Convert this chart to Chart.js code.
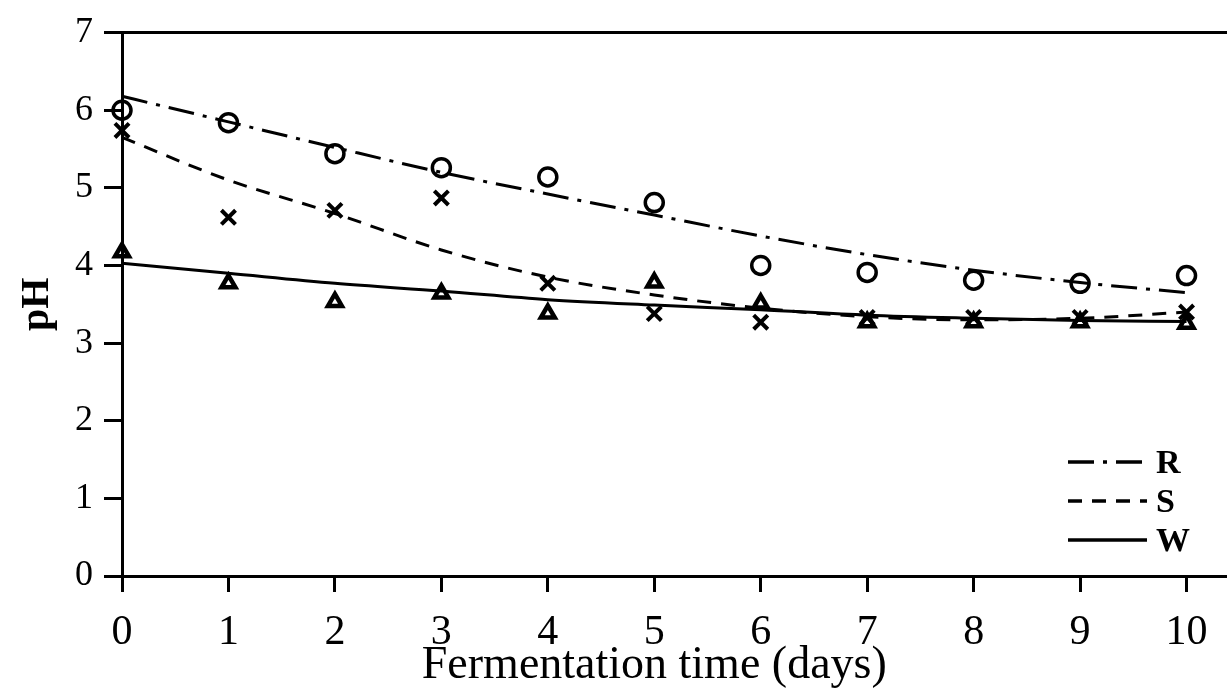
<!DOCTYPE html>
<html>
<head>
<meta charset="utf-8">
<script src="https://cdn.jsdelivr.net/npm/chart.js@4/dist/chart.umd.min.js"></script>
<style>
  html, body { margin: 0; padding: 0; background: #fff; }
  canvas { display: block; }
</style>
</head>
<body>
<canvas id="chart" width="1227" height="691"></canvas>
<script>
const days = [0, 1, 2, 3, 4, 5, 6, 7, 8, 9, 10];
const yTicks = [0, 1, 2, 3, 4, 5, 6, 7];
const seriesNames = ['R', 'S', 'W'];

// measured pH (markers)
const phR = [6.0, 5.84, 5.44, 5.26, 5.14, 4.81, 4.0, 3.91, 3.81, 3.77, 3.87];
const phS = [5.74, 4.62, 4.71, 4.87, 3.77, 3.38, 3.27, 3.33, 3.33, 3.33, 3.4];
const phW = [4.17, 3.77, 3.53, 3.64, 3.38, 3.78, 3.51, 3.27, 3.27, 3.27, 3.25];

// fitted curves
const fitR = [6.18, 5.85, 5.52, 5.2, 4.92, 4.65, 4.38, 4.14, 3.94, 3.78, 3.65];
const fitS = [5.65, 5.1, 4.67, 4.2, 3.85, 3.62, 3.45, 3.34, 3.3, 3.32, 3.4];
const fitW = [4.03, 3.9, 3.77, 3.67, 3.56, 3.49, 3.43, 3.36, 3.32, 3.29, 3.28];

const SERIF = '"Liberation Serif", "Times New Roman", serif';
const dashR = [26, 9, 4, 9];
const dashS = [14, 10];

const pts = vals => days.map((d, i) => ({ x: d, y: vals[i] }));

function fitLine(label, vals, dash) {
  return {
    label,
    data: pts(vals),
    showLine: true,
    borderColor: '#000',
    borderWidth: 3,
    borderDash: dash,
    pointRadius: 0,
    cubicInterpolationMode: 'monotone',
    clip: false,
  };
}

function markers(label, vals, style, radius, width) {
  return {
    label,
    data: pts(vals),
    showLine: false,
    pointStyle: style,
    pointRadius: radius,
    borderWidth: width,
    pointBorderWidth: width,
    pointBorderColor: '#000',
    pointBackgroundColor: 'rgba(0,0,0,0)',
    clip: false,
  };
}

// legend in the lower right corner, drawn by hand so the dash patterns show
const cornerLegend = {
  id: 'cornerLegend',
  afterDraw(chart) {
    const { ctx, chartArea } = chart;
    const dashes = [dashR, dashS, []];
    const x0 = chartArea.right - 159;
    const x1 = chartArea.right - 80;
    ctx.save();
    ctx.strokeStyle = '#000';
    ctx.fillStyle = '#000';
    ctx.lineWidth = 3.5;
    ctx.font = 'bold 34px ' + SERIF;
    ctx.textBaseline = 'middle';
    seriesNames.forEach((name, i) => {
      const y = chartArea.bottom - 114 + i * 39;
      ctx.setLineDash(dashes[i]);
      ctx.beginPath();
      ctx.moveTo(x0, y);
      ctx.lineTo(x1, y);
      ctx.stroke();
      ctx.fillText(name, x1 + 9, y + 2);
    });
    ctx.restore();
  },
};

// x title centred under the 0..10 ticks
const xTitle = {
  id: 'xTitle',
  afterDraw(chart) {
    const { ctx } = chart;
    const xs = chart.scales.x;
    ctx.save();
    ctx.fillStyle = '#000';
    ctx.font = '46px ' + SERIF;
    ctx.textAlign = 'center';
    ctx.textBaseline = 'middle';
    ctx.fillText('Fermentation time (days)', xs.getPixelForValue(5), 666);
    ctx.restore();
  },
};

new Chart(document.getElementById('chart'), {
  type: 'scatter',
  data: {
    datasets: [
      fitLine('R', fitR, dashR),
      fitLine('S', fitS, dashS),
      fitLine('W', fitW, []),
      markers('R data', phR, 'circle', 9, 3.5),
      markers('S data', phS, 'crossRot', 10, 4),
      markers('W data', phW, 'triangle', 8, 4.5),
    ],
  },
  options: {
    responsive: false,
    animation: false,
    layout: { autoPadding: false, padding: { top: 32, right: 0, bottom: 0, left: 0 } },
    plugins: {
      legend: { display: false },
      tooltip: { enabled: false },
    },
    scales: {
      x: {
        type: 'linear',
        min: 0,
        max: 10.38,
        afterFit: scale => {
          scale.height = 115;
          scale.paddingLeft = 0;
          scale.paddingRight = 0;
        },
        afterBuildTicks: scale => { scale.ticks = days.map(v => ({ value: v })); },
        border: { display: true, color: '#000', width: 3 },
        grid: {
          drawOnChartArea: false,
          color: '#000',
          tickColor: '#000',
          tickLength: 16,
          lineWidth: 3,
        },
        ticks: {
          color: '#000',
          padding: 16,
          maxRotation: 0,
          font: { family: SERIF, size: 42 },
        },
      },
      y: {
        min: 0,
        max: 7,
        afterFit: scale => { scale.width = 122; },
        afterBuildTicks: scale => { scale.ticks = yTicks.map(v => ({ value: v })); },
        border: { display: true, color: '#000', width: 3 },
        grid: {
          color: c => (c.tick && c.tick.value === 7 ? '#000' : 'rgba(0,0,0,0)'),
          tickColor: '#000',
          tickLength: 18,
          lineWidth: 3,
        },
        ticks: {
          color: '#000',
          padding: 11,
          font: { family: SERIF, size: 36 },
        },
        title: {
          display: true,
          text: 'pH',
          color: '#000',
          padding: { top: 14, bottom: 0 },
          font: { family: SERIF, size: 40, weight: 'bold' },
        },
      },
    },
  },
  plugins: [cornerLegend, xTitle],
});
</script>
</body>
</html>
